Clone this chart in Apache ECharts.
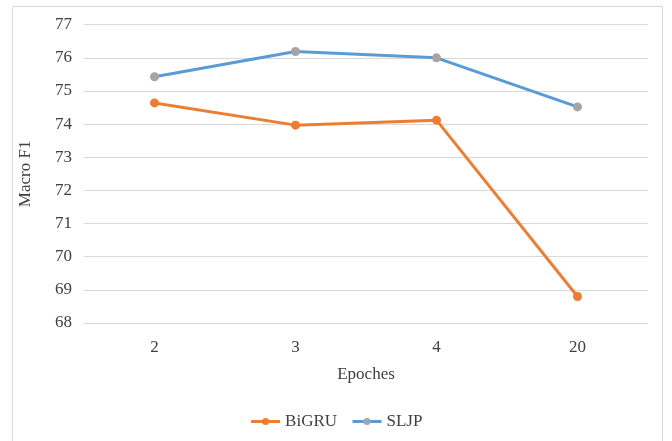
<!DOCTYPE html>
<html><head><meta charset="utf-8">
<script src="https://cdn.jsdelivr.net/npm/echarts@6/dist/echarts.min.js"></script>
<style>html,body{margin:0;padding:0;background:#fff}#c{width:672px;height:441px}</style>
</head><body><div id="c"></div>
<script>
const categories = ['2', '3', '4', '20'];
const bigru = [74.64, 73.97, 74.12, 68.8];
const sljp = [75.43, 76.19, 76.0, 74.52];
const yTicks = { min: 68, max: 77, interval: 1 };

const chart = echarts.init(document.getElementById('c'));
const font = 'Liberation Serif';
chart.setOption({
  animation: false,
  graphic: [{ type: 'rect', shape: { x: 12.5, y: 6.5, width: 650, height: 440 }, style: { fill: 'none', stroke: '#d9d9d9', lineWidth: 1 } }],
  grid: { left: 84, right: 24, top: 24.7, bottom: 118 },
  xAxis: {
    type: 'category', data: categories, boundaryGap: true,
    name: 'Epoches', nameLocation: 'middle', nameGap: 43,
    nameTextStyle: { fontFamily: font, fontSize: 17, color: '#404040' },
    axisLine: { show: false }, axisTick: { show: false },
    axisLabel: { fontFamily: font, fontSize: 17, color: '#404040', margin: 16 }
  },
  yAxis: {
    type: 'value', min: yTicks.min, max: yTicks.max, interval: yTicks.interval,
    name: 'Macro F1', nameLocation: 'middle', nameGap: 50,
    nameTextStyle: { fontFamily: font, fontSize: 17, color: '#404040' },
    axisLine: { show: false }, axisTick: { show: false },
    axisLabel: { fontFamily: font, fontSize: 17, color: '#404040', margin: 12 },
    splitLine: { lineStyle: { color: '#d9d9d9', width: 1 } }
  },
  legend: {
    top: 408, left: 'center', itemWidth: 29, itemHeight: 9, itemGap: 14,
    lineStyle: { width: 3 },
    textStyle: { fontFamily: font, fontSize: 17, color: '#404040' },
    data: ['BiGRU', 'SLJP']
  },
  series: [
    { name: 'BiGRU', type: 'line', data: bigru, symbol: 'circle', symbolSize: 9,
      lineStyle: { color: '#ED7D31', width: 3 }, itemStyle: { color: '#ED7D31' } },
    { name: 'SLJP', type: 'line', data: sljp, symbol: 'circle', symbolSize: 9,
      lineStyle: { color: '#5B9BD5', width: 3 }, itemStyle: { color: '#A5A5A5' } }
  ]
});
</script></body></html>
